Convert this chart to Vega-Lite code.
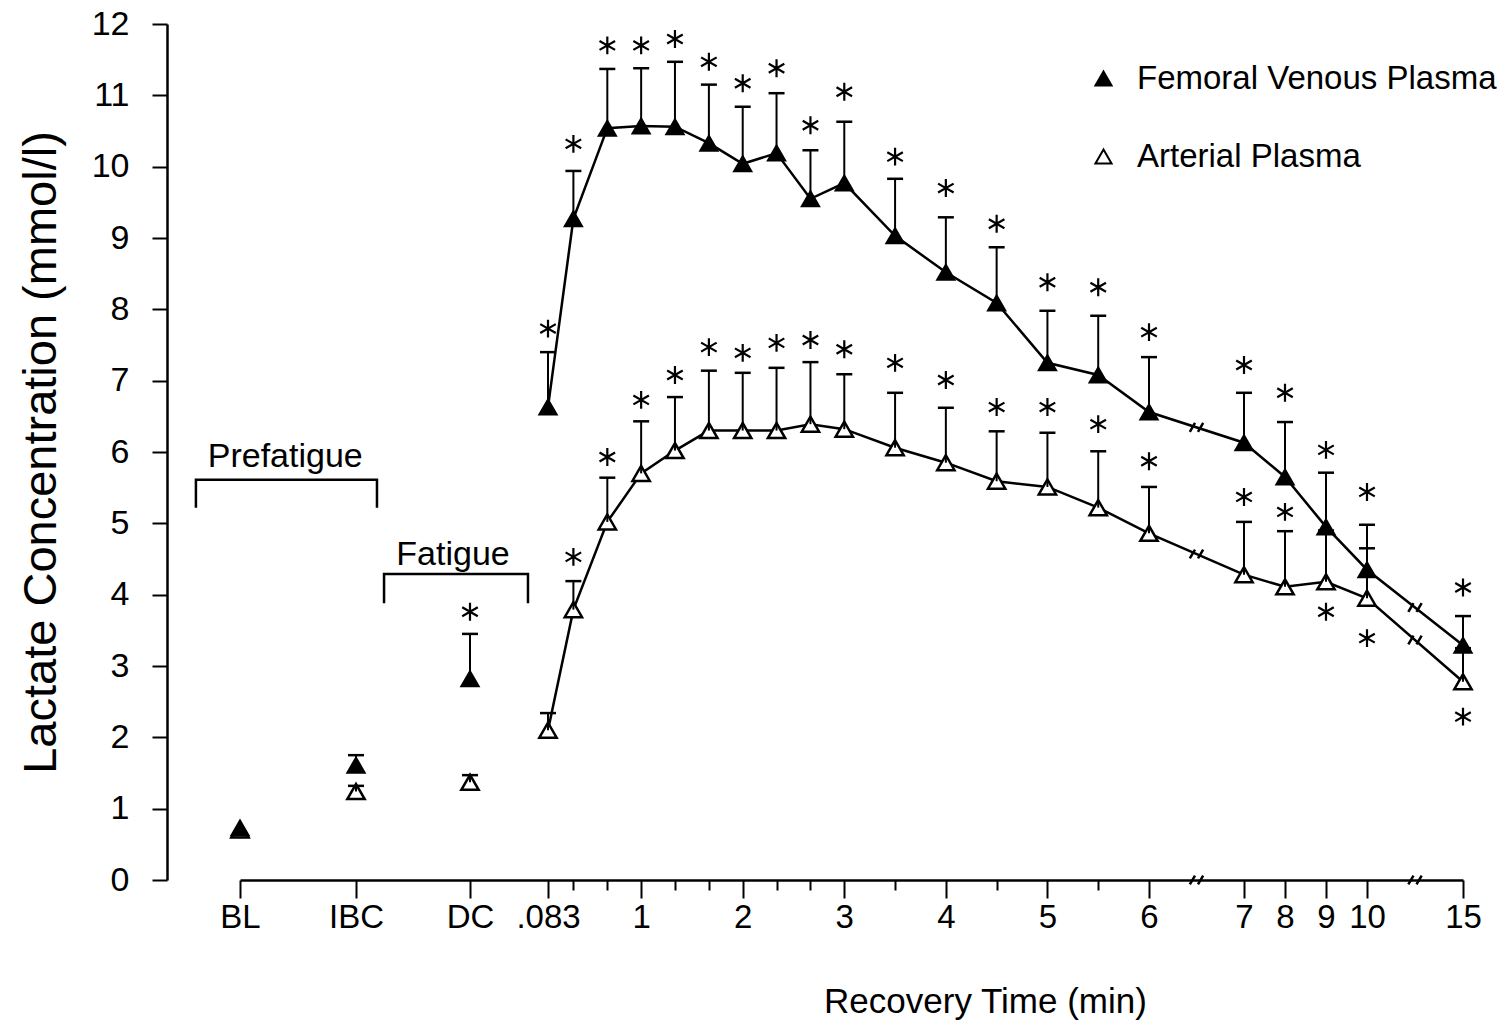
{
  "$schema": "https://vega.github.io/schema/vega-lite/v6.json",
  "width": 1223,
  "height": 856,
  "autosize": {"type": "none"},
  "padding": {"left": 240, "top": 24, "right": 47, "bottom": 150},
  "background": "white",
  "config": {
    "view": {"stroke": null},
    "font": "Liberation Sans",
    "axis": {"grid": false},
    "legend": {
      "orient": "none",
      "legendX": 847,
      "legendY": 38,
      "padding": 0,
      "labelFontSize": 33,
      "labelColor": "black",
      "labelFont": "Liberation Sans",
      "symbolType": "triangle-up",
      "symbolSize": 260,
      "symbolStrokeColor": "black",
      "symbolStrokeWidth": 2,
      "rowPadding": 44,
      "labelOffset": 17,
      "labelLimit": 600
    }
  },
  "datasets": {
    "pts": [
      {"t": -3, "series": "Femoral Venous Plasma", "value": 0.73, "top": null, "star": null},
      {"t": -2, "series": "Femoral Venous Plasma", "value": 1.61, "top": 1.75, "star": null},
      {"t": -1, "series": "Femoral Venous Plasma", "value": 2.82, "top": 3.45, "star": 3.76},
      {"t": 0.083, "series": "Femoral Venous Plasma", "value": 6.63, "top": 7.4, "star": 7.73},
      {"t": 0.333, "series": "Femoral Venous Plasma", "value": 9.27, "top": 9.94, "star": 10.32},
      {"t": 0.667, "series": "Femoral Venous Plasma", "value": 10.54, "top": 11.37, "star": 11.7},
      {"t": 1, "series": "Femoral Venous Plasma", "value": 10.57, "top": 11.38, "star": 11.7},
      {"t": 1.333, "series": "Femoral Venous Plasma", "value": 10.56, "top": 11.47, "star": 11.79},
      {"t": 1.667, "series": "Femoral Venous Plasma", "value": 10.33, "top": 11.15, "star": 11.47},
      {"t": 2, "series": "Femoral Venous Plasma", "value": 10.04, "top": 10.84, "star": 11.17},
      {"t": 2.333, "series": "Femoral Venous Plasma", "value": 10.19, "top": 11.03, "star": 11.38},
      {"t": 2.667, "series": "Femoral Venous Plasma", "value": 9.55, "top": 10.23, "star": 10.58},
      {"t": 3, "series": "Femoral Venous Plasma", "value": 9.77, "top": 10.63, "star": 11.05},
      {"t": 3.5, "series": "Femoral Venous Plasma", "value": 9.03, "top": 9.83, "star": 10.14},
      {"t": 4, "series": "Femoral Venous Plasma", "value": 8.52, "top": 9.29, "star": 9.7},
      {"t": 4.5, "series": "Femoral Venous Plasma", "value": 8.09, "top": 8.87, "star": 9.2},
      {"t": 5, "series": "Femoral Venous Plasma", "value": 7.25, "top": 7.98, "star": 8.38},
      {"t": 5.5, "series": "Femoral Venous Plasma", "value": 7.08, "top": 7.91, "star": 8.31},
      {"t": 6, "series": "Femoral Venous Plasma", "value": 6.56, "top": 7.33, "star": 7.68},
      {"t": 7, "series": "Femoral Venous Plasma", "value": 6.13, "top": 6.83, "star": 7.22},
      {"t": 8, "series": "Femoral Venous Plasma", "value": 5.65, "top": 6.42, "star": 6.83},
      {"t": 9, "series": "Femoral Venous Plasma", "value": 4.95, "top": 5.71, "star": 6.03},
      {"t": 10, "series": "Femoral Venous Plasma", "value": 4.35, "top": 4.98, "star": 5.44},
      {"t": 15, "series": "Femoral Venous Plasma", "value": 3.29, "top": 3.7, "star": 4.1},
      {"t": -3, "series": "Arterial Plasma", "value": 0.7, "top": null, "star": null},
      {"t": -2, "series": "Arterial Plasma", "value": 1.24, "top": 1.32, "star": null},
      {"t": -1, "series": "Arterial Plasma", "value": 1.37, "top": 1.47, "star": null},
      {"t": 0.083, "series": "Arterial Plasma", "value": 2.1, "top": 2.34, "star": null},
      {"t": 0.333, "series": "Arterial Plasma", "value": 3.79, "top": 4.19, "star": 4.53},
      {"t": 0.667, "series": "Arterial Plasma", "value": 5.02, "top": 5.64, "star": 5.93},
      {"t": 1, "series": "Arterial Plasma", "value": 5.7, "top": 6.43, "star": 6.73},
      {"t": 1.333, "series": "Arterial Plasma", "value": 6.02, "top": 6.77, "star": 7.08},
      {"t": 1.667, "series": "Arterial Plasma", "value": 6.3, "top": 7.14, "star": 7.47},
      {"t": 2, "series": "Arterial Plasma", "value": 6.3, "top": 7.11, "star": 7.39},
      {"t": 2.333, "series": "Arterial Plasma", "value": 6.3, "top": 7.18, "star": 7.53},
      {"t": 2.667, "series": "Arterial Plasma", "value": 6.39, "top": 7.26, "star": 7.57},
      {"t": 3, "series": "Arterial Plasma", "value": 6.32, "top": 7.09, "star": 7.44},
      {"t": 3.5, "series": "Arterial Plasma", "value": 6.06, "top": 6.83, "star": 7.25},
      {"t": 4, "series": "Arterial Plasma", "value": 5.85, "top": 6.62, "star": 7.01},
      {"t": 4.5, "series": "Arterial Plasma", "value": 5.59, "top": 6.29, "star": 6.63},
      {"t": 5, "series": "Arterial Plasma", "value": 5.51, "top": 6.27, "star": 6.63},
      {"t": 5.5, "series": "Arterial Plasma", "value": 5.22, "top": 6.01, "star": 6.39},
      {"t": 6, "series": "Arterial Plasma", "value": 4.86, "top": 5.51, "star": 5.87},
      {"t": 7, "series": "Arterial Plasma", "value": 4.28, "top": 5.02, "star": 5.37},
      {"t": 8, "series": "Arterial Plasma", "value": 4.11, "top": 4.89, "star": 5.16},
      {"t": 9, "series": "Arterial Plasma", "value": 4.18, "top": 4.9, "star": 3.76},
      {"t": 10, "series": "Arterial Plasma", "value": 3.95, "top": 4.65, "star": 3.39},
      {"t": 15, "series": "Arterial Plasma", "value": 2.78, "top": 3.25, "star": 2.29}
    ],
    "brackets": [
      {"g": "Prefatigue", "o": 1, "t": -3.38, "value": 5.22},
      {"g": "Prefatigue", "o": 2, "t": -3.38, "value": 5.61},
      {"g": "Prefatigue", "o": 3, "t": -1.816, "value": 5.61},
      {"g": "Prefatigue", "o": 4, "t": -1.816, "value": 5.22},
      {"g": "Fatigue", "o": 1, "t": -1.754, "value": 3.88},
      {"g": "Fatigue", "o": 2, "t": -1.754, "value": 4.29},
      {"g": "Fatigue", "o": 3, "t": -0.195, "value": 4.29},
      {"g": "Fatigue", "o": 4, "t": -0.195, "value": 3.88}
    ],
    "blabels": [
      {"label": "Prefatigue", "t": -2.61, "value": 5.79},
      {"label": "Fatigue", "t": -1.149, "value": 4.42}
    ],
    "breaks": [
      {"t": 6.5, "value": 0},
      {"t": 12.5, "value": 0},
      {"t": 6.5, "value": 6.345},
      {"t": 6.5, "value": 4.57},
      {"t": 12.5, "value": 3.82},
      {"t": 12.5, "value": 3.365}
    ]
  },
  "encoding": {
    "x": {
      "field": "t",
      "type": "quantitative",
      "scale": {
        "type": "linear",
        "domain": [-3, -2, -1, 0.083, 6, 7, 10, 15],
        "range": [0, 116, 230, 308, 909, 1004, 1127, 1223],
        "nice": false,
        "zero": false
      },
      "axis": {
        "title": "Recovery Time (min)",
        "values": [-3, -2, -1, 0.083, 0.333, 0.667, 1, 1.333, 1.667, 2, 2.333, 2.667, 3, 3.5, 4, 4.5, 5, 5.5, 6, 7, 8, 9, 10, 15],
        "labelExpr": "datum.value == -3 ? 'BL' : datum.value == -2 ? 'IBC' : datum.value == -1 ? 'DC' : datum.value == 0.083 ? '.083' : (datum.value % 1 == 0 ? '' + datum.value : '')",
        "tickSize": {"condition": {"test": "datum.value % 1 == 0 || datum.value == 0.083", "value": 18}, "value": 10},
        "grid": false,
        "domainColor": "black",
        "domainWidth": 2.5,
        "tickColor": "black",
        "tickWidth": 2,
        "labelFontSize": 33,
        "labelColor": "black",
        "labelPadding": 3,
        "labelOverlap": false,
        "labelFlush": false,
        "titleFontSize": 35,
        "titleFontWeight": "normal",
        "titleColor": "black",
        "titleX": 745,
        "titleY": 132,
        "titleAlign": "center",
        "titleBaseline": "alphabetic"
      }
    }
  },
  "layer": [
    {
      "data": {"name": "brackets"},
      "mark": {"type": "line", "color": "black", "strokeWidth": 2.5},
      "encoding": {
        "y": {
          "field": "value",
          "type": "quantitative",
          "title": "Lactate Concentration (mmol/l)",
          "scale": {"domain": [0, 12], "nice": false, "zero": true},
          "axis": {
            "title": "Lactate Concentration (mmol/l)",
            "offset": 73,
            "grid": false,
            "values": [0, 0.5, 1, 1.5, 2, 2.5, 3, 3.5, 4, 4.5, 5, 5.5, 6, 6.5, 7, 7.5, 8, 8.5, 9, 9.5, 10, 10.5, 11, 11.5, 12],
            "labelExpr": "datum.value % 1 == 0 ? '' + datum.value : ''",
            "tickSize": {"condition": {"test": "datum.value % 1 == 0", "value": 15}, "value": 8},
            "domainColor": "black",
            "domainWidth": 2.5,
            "tickColor": "black",
            "tickWidth": 2,
            "labelFontSize": 34,
            "labelColor": "black",
            "labelPadding": 23,
            "titleFontSize": 47,
            "titleFontWeight": "normal",
            "titleColor": "black",
            "titlePadding": 26
          }
        },
        "detail": {"field": "g"},
        "order": {"field": "o", "type": "quantitative"}
      }
    },
    {
      "data": {"name": "blabels"},
      "mark": {"type": "text", "fontSize": 34, "color": "black", "align": "center", "baseline": "alphabetic"},
      "encoding": {
        "y": {"field": "value", "type": "quantitative", "title": "Lactate Concentration (mmol/l)"},
        "text": {"field": "label"}
      }
    },
    {
      "data": {"name": "pts"},
      "transform": [{"filter": "datum.t > 0"}],
      "mark": {"type": "line", "color": "black", "strokeWidth": 2.5},
      "encoding": {
        "y": {"field": "value", "type": "quantitative", "title": "Lactate Concentration (mmol/l)"},
        "detail": {"field": "series"}
      }
    },
    {
      "data": {"name": "breaks"},
      "mark": {"type": "point", "shape": "M-0.9,0.6L-0.2,-0.6M0.2,0.6L0.9,-0.6", "size": 220, "filled": false, "stroke": "black", "strokeWidth": 2.5, "opacity": 1},
      "encoding": {
        "y": {"field": "value", "type": "quantitative", "title": "Lactate Concentration (mmol/l)"}
      }
    },
    {
      "data": {"name": "pts"},
      "transform": [{"filter": "datum.series == 'Arterial Plasma'"}],
      "mark": {"type": "point", "shape": "triangle-up", "size": 300, "filled": true, "stroke": "black", "strokeWidth": 2.5, "opacity": 1},
      "encoding": {
        "y": {"field": "value", "type": "quantitative", "title": "Lactate Concentration (mmol/l)"},
        "fill": {
          "field": "series",
          "type": "nominal",
          "scale": {"domain": ["Femoral Venous Plasma", "Arterial Plasma"], "range": ["black", "white"]},
          "legend": {"title": null}
        }
      }
    },
    {
      "data": {"name": "pts"},
      "transform": [{"filter": "datum.top != null"}],
      "mark": {"type": "rule", "color": "black", "strokeWidth": 2},
      "encoding": {
        "y": {"field": "value", "type": "quantitative", "title": "Lactate Concentration (mmol/l)"},
        "y2": {"field": "top"}
      }
    },
    {
      "data": {"name": "pts"},
      "transform": [{"filter": "datum.top != null"}],
      "mark": {"type": "point", "shape": "stroke", "size": 256, "filled": false, "stroke": "black", "strokeWidth": 2.5, "opacity": 1},
      "encoding": {
        "y": {"field": "top", "type": "quantitative", "title": "Lactate Concentration (mmol/l)"}
      }
    },
    {
      "data": {"name": "pts"},
      "transform": [{"filter": "datum.series == 'Femoral Venous Plasma'"}],
      "mark": {"type": "point", "shape": "triangle-up", "size": 300, "filled": true, "stroke": "black", "strokeWidth": 2, "opacity": 1},
      "encoding": {
        "y": {"field": "value", "type": "quantitative", "title": "Lactate Concentration (mmol/l)"},
        "fill": {
          "field": "series",
          "type": "nominal",
          "scale": {"domain": ["Femoral Venous Plasma", "Arterial Plasma"], "range": ["black", "white"]},
          "legend": {"title": null}
        }
      }
    },
    {
      "data": {"name": "pts"},
      "transform": [{"filter": "datum.star != null"}],
      "mark": {"type": "point", "shape": "M0,-1L0,1M-0.87,-0.5L0.87,0.5M-0.87,0.5L0.87,-0.5", "size": 320, "filled": false, "stroke": "black", "strokeWidth": 2.2, "opacity": 1},
      "encoding": {
        "y": {"field": "star", "type": "quantitative", "title": "Lactate Concentration (mmol/l)"}
      }
    }
  ]
}
